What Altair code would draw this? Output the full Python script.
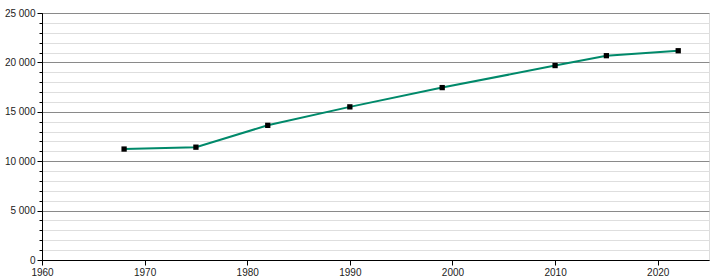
import altair as alt
import pandas as pd

years = [1968, 1975, 1982, 1990, 1999, 2010, 2015, 2022]
population = [11230, 11420, 13630, 15500, 17450, 19680, 20680, 21180]

major_y = [0, 5000, 10000, 15000, 20000, 25000]
minor_y = [v for v in range(0, 25001, 1000) if v % 5000 != 0]
x_ticks = [1960, 1970, 1980, 1990, 2000, 2010, 2020]

df = pd.DataFrame({"year": years, "pop": population})

font = "Liberation Sans"

xscale = alt.Scale(domain=[1960, 2025], nice=False, zero=False)
yscale = alt.Scale(domain=[0, 25000], nice=False)

x_axis = alt.Axis(values=x_ticks, format="d", grid=False, tickSize=5, tickColor="black",
                  domain=True, domainColor="black", labelFlush=False, labelPadding=2,
                  labelFont=font, labelFontSize=10, labelColor="#222", title=None,
                  orient="bottom")

minor_axis = alt.Axis(values=minor_y, grid=True, gridColor="#dedede", gridWidth=1,
                      tickSize=3, tickColor="black", labels=False, domain=True,
                      domainColor="black", title=None, orient="left")
major_axis = alt.Axis(values=major_y, grid=True, gridColor="#8a8a8a", gridWidth=1,
                      tickSize=5, tickColor="black", domain=True, domainColor="black",
                      labelExpr="replace(format(datum.value, ','), ',', ' ')",
                      labelFont=font, labelFontSize=10, labelColor="#222",
                      labelPadding=2, title=None, orient="left")

line = alt.Chart(df).mark_line(color="#00896a", strokeWidth=2).encode(
    x=alt.X("year:Q", scale=xscale, axis=x_axis),
    y=alt.Y("pop:Q", scale=yscale, axis=minor_axis),
)
pts = alt.Chart(df).mark_square(color="black", size=28, opacity=1, filled=True).encode(
    x=alt.X("year:Q", scale=xscale, axis=x_axis),
    y=alt.Y("pop:Q", scale=yscale, axis=major_axis),
)

chart = alt.layer(line, pts).resolve_axis(y="independent", x="shared").properties(
    width=667, height=247,
    autosize=alt.AutoSizeParams(type="none"),
    padding={"left": 42, "top": 13, "right": 11, "bottom": 20},
).configure_view(stroke=None).configure(background="white")

chart.save("out.html", embed_options={"renderer": "svg", "actions": False})
